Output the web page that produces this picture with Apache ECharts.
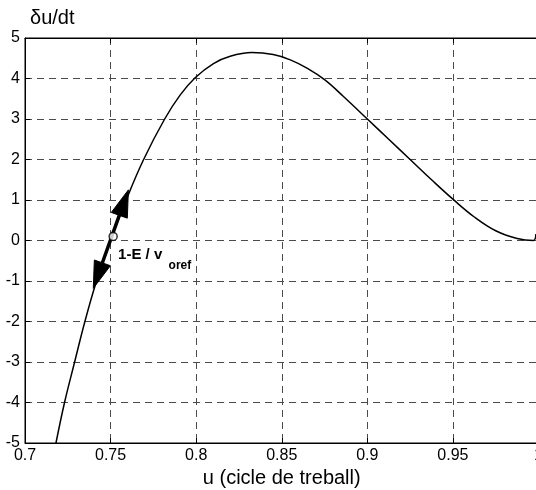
<!DOCTYPE html>
<html>
<head>
<meta charset="utf-8">
<script src="https://cdn.jsdelivr.net/npm/echarts@6/dist/echarts.min.js"></script>
<style>
html,body{margin:0;padding:0;background:#fff;}
#chart{width:536px;height:490px;}
</style>
</head>
<body>
<div id="chart"></div>
<script>
// ---- data ----
const uValues  = [0.7181,0.7231,0.7290,0.7350,0.7418,0.7500,0.7591,0.7693,0.7816,0.7906,0.7994,0.8101,0.8199,0.8326,0.8450,0.8550,0.8650,0.8750,0.8862,0.9000,0.9125,0.9250,0.9375,0.9500,0.9625,0.9750,0.9875,0.9970,0.9985];
const duValues = [-5,-4,-3,-2,-1,0,1,2,3,3.59,4.02,4.37,4.55,4.64,4.59,4.46,4.25,3.97,3.55,3.0,2.5,2.0,1.5,1.02,0.58,0.24,0.05,0.0,0.16];
const xMin = 0.7, xMax = 1.0, xStep = 0.05;
const yMin = -5, yMax = 5, yStep = 1;
const arrowTail = [0.7399, -1.18];   // lower arrow tip
const arrowTip  = [0.7604, 1.25];    // upper arrow tip
const markerPoint = [0.7515, 0.1];
const labelAnchor = [0.7544, -0.36];
const labelMain = '1-E / v';
const labelSub = 'oref';
const xName = 'u (cicle de treball)';
const yName = 'δu/dt';

const FONT = "'Liberation Sans', Arial, sans-serif";
const curve = uValues.map((u, i) => [u, duValues[i]]);

const chart = echarts.init(document.getElementById('chart'), null, {renderer: 'canvas'});
const dashColor = '#4a4a4a';

chart.setOption({
  animation: false,
  backgroundColor: '#fff',
  grid: {left: 25, top: 38, width: 513.5, height: 405, outerBoundsMode: 'none',
    show: true, borderColor: '#000', borderWidth: 1},
  xAxis: [{
    type: 'value', min: xMin, max: xMax, interval: xStep,
    name: xName, nameLocation: 'middle', nameGap: 24,
    nameTextStyle: {fontFamily: FONT, fontSize: 20, color: '#000'},
    axisLine: {show: true, onZero: false, lineStyle: {color: '#000', width: 1}},
    axisTick: {show: true, inside: true, length: 5, lineStyle: {color: '#000'}},
    axisLabel: {fontFamily: FONT, fontSize: 16, color: '#000', margin: 5,
      formatter: v => String(Math.round(v * 100) / 100)},
    splitLine: {show: true, lineStyle: {color: dashColor, type: [7, 5], width: 1}}
  }, {
    type: 'value', position: 'top', min: xMin, max: xMax, interval: xStep,
    axisLine: {show: true, onZero: false, lineStyle: {color: '#000', width: 1}},
    axisTick: {show: true, inside: true, length: 5, lineStyle: {color: '#000'}},
    axisLabel: {show: false}, splitLine: {show: false}
  }],
  yAxis: {
    type: 'value', min: yMin, max: yMax, interval: yStep,
    name: yName, nameLocation: 'end', nameGap: 20,
    nameTextStyle: {fontFamily: FONT, fontSize: 20, color: '#000', align: 'left', verticalAlign: 'middle', padding: [0, 0, 0, 5]},
    axisLine: {show: true, onZero: false, lineStyle: {color: '#000', width: 1}},
    axisTick: {show: true, inside: true, length: 5, lineStyle: {color: '#000'}},
    axisLabel: {fontFamily: FONT, fontSize: 16, color: '#000', margin: 5},
    splitLine: {show: true, lineStyle: {color: dashColor, type: [7, 5], width: 1}}
  },
  series: [{
    type: 'line', data: curve, smooth: 0.4, showSymbol: false, clip: true,
    lineStyle: {color: '#000', width: 1.5}, z: 3
  }, {
    type: 'custom', z: 4, clip: false,
    data: [[arrowTail[0], arrowTail[1], arrowTip[0], arrowTip[1], labelAnchor[0], labelAnchor[1]]],
    encode: {x: [0, 2], y: [1, 3]},
    renderItem: function (params, api) {
      const a = api.coord([api.value(0), api.value(1)]);
      const b = api.coord([api.value(2), api.value(3)]);
      const la = api.coord([api.value(4), api.value(5)]);
      const dx = b[0] - a[0], dy = b[1] - a[1];
      const len = Math.sqrt(dx * dx + dy * dy);
      const ux = dx / len, uy = dy / len;
      const nx = -uy, ny = ux;
      const L = 27, W = 8.5;
      const headB = [[b[0], b[1]],
        [b[0] - ux * L + nx * W, b[1] - uy * L + ny * W],
        [b[0] - ux * L - nx * W, b[1] - uy * L - ny * W]];
      const headA = [[a[0], a[1]],
        [a[0] + ux * L + nx * W, a[1] + uy * L + ny * W],
        [a[0] + ux * L - nx * W, a[1] + uy * L - ny * W]];
      return {
        type: 'group',
        children: [
          {type: 'line', shape: {x1: a[0] + ux * (L - 2), y1: a[1] + uy * (L - 2), x2: b[0] - ux * (L - 2), y2: b[1] - uy * (L - 2)},
            style: {stroke: '#000', lineWidth: 3.5}},
          {type: 'polygon', shape: {points: headB}, style: {fill: '#000', stroke: '#000', lineWidth: 1}},
          {type: 'polygon', shape: {points: headA}, style: {fill: '#000', stroke: '#000', lineWidth: 1}},
          {type: 'text', x: la[0], y: la[1],
            style: {text: labelMain, font: 'bold 15px ' + FONT, fill: '#000', align: 'left', verticalAlign: 'middle'}},
          {type: 'text', x: la[0] + 50.5, y: la[1] + 11,
            style: {text: labelSub, font: 'bold 12px ' + FONT, fill: '#000', align: 'left', verticalAlign: 'middle'}}
        ]
      };
    }
  }, {
    type: 'scatter', data: [markerPoint], symbol: 'circle', symbolSize: 8, z: 5,
    itemStyle: {color: '#fff', borderColor: '#000', borderWidth: 1.5}
  }]
});
</script>
</body>
</html>
